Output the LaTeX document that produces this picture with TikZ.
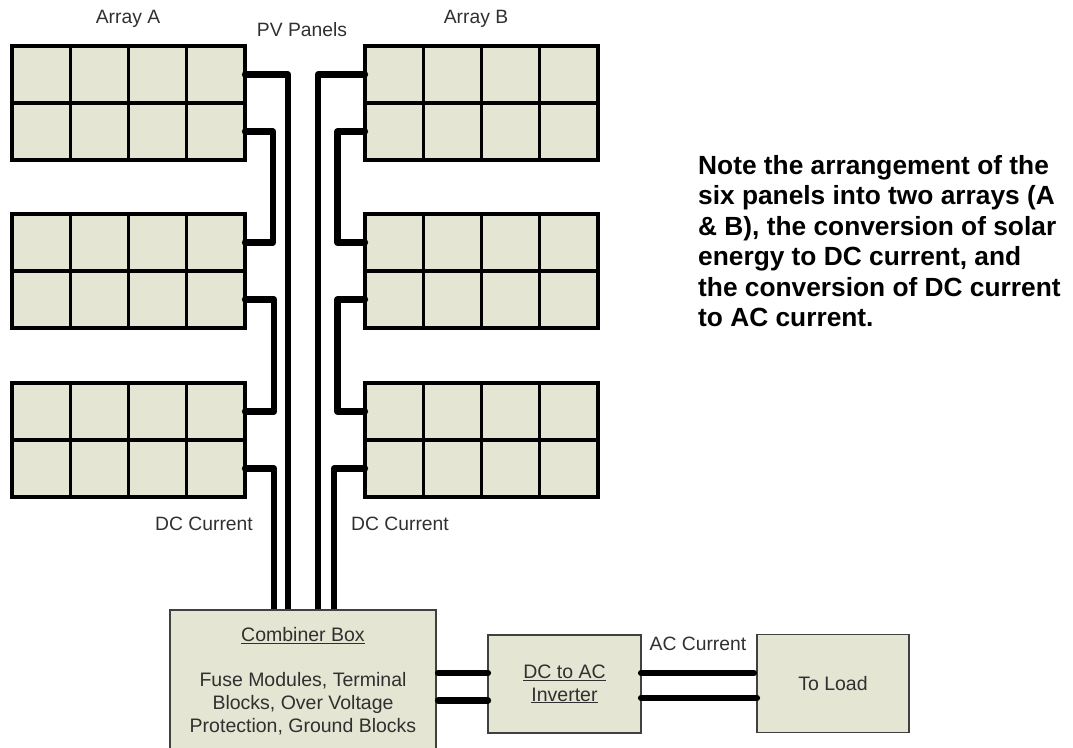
\documentclass[tikz,border=0pt]{standalone}
\usepackage{fontspec}
\setmainfont{Liberation Sans}
\definecolor{panelfill}{HTML}{E4E5D2}
\definecolor{labelgray}{HTML}{303030}
\tikzset{
  cell/.style={draw=black, fill=panelfill, line width=3.2pt, inner sep=0pt, outer sep=0pt,
    minimum width=58.25pt, minimum height=57pt},
  wire/.style={line width=6.2pt, line cap=round, line join=round},
  unit/.style={draw=black!75, fill=panelfill, line width=1.5pt, inner sep=0pt, outer sep=0pt,
    align=center, text=labelgray, font=\fontsize{19.5}{22.7}\selectfont},
  caption/.style={text=labelgray, font=\fontsize{19.3}{22}\selectfont, inner sep=0pt}
}
\begin{document}
\begin{tikzpicture}[x=1pt, y=-1pt]
  \clip (0,0) rectangle (1073,747);
  % Panels: two rows of four cells each
  \foreach \p/\x/\y in {A1/12/46, A2/12/214, A3/12/383, B1/365/46, B2/365/214, B3/365/383} {
    \foreach \r in {1,2} {
      \foreach \c in {1,2,3,4} {
        \node[cell] (\p-\r-\c) at ({\x+(\c-0.5)*58.25},{\y+(\r-0.5)*57}) {};
      }
    }
  }
  % Labels above the panels
  \node[caption] (arrayA) at (128,19) {Array A};
  \node[caption] (pvpanels) at (302,29.5) {PV Panels};
  \node[caption] (arrayB) at (476,19) {Array B};
  \node[caption] (dcleft) at (204,524) {DC Current};
  \node[caption] (dcright) at (400,524) {DC Current};
  % Feeds into the combiner
  \coordinate (inA1) at (288,610);
  \coordinate (inA3) at (274,610);
  \coordinate (inB1) at (318,610);
  \coordinate (inB3) at (334,610);
  \coordinate (busA) at (273,190);
  \coordinate (busB) at (337.5,190);
  \coordinate (busAlow) at (274,355);
  \coordinate (busBlow) at (337.5,355);
  \draw[wire] (A1-1-4.east) -| (inA1);
  \draw[wire] (A3-2-4.east) -| (inA3);
  \draw[wire] (B1-1-1.west) -| (inB1);
  \draw[wire] (B3-2-1.west) -| (inB3);
  % Links between panels
  \draw[wire] (A1-2-4.east) -| (busA) |- (A2-1-4.east);
  \draw[wire] (A2-2-4.east) -| (busAlow) |- (A3-1-4.east);
  \draw[wire] (B1-2-1.west) -| (busB) |- (B2-1-1.west);
  \draw[wire] (B2-2-1.west) -| (busBlow) |- (B3-1-1.west);
  % Boxes at the bottom
  \node[unit, minimum width=266pt, minimum height=142pt] (combiner) at (303,681)
    {\underline{Combiner Box}\\[22.7pt]Fuse Modules, Terminal\\Blocks, Over Voltage\\Protection, Ground Blocks};
  \node[unit, minimum width=153pt, minimum height=98pt] (inverter) at (564.5,684)
    {\underline{DC to AC}\\\underline{Inverter}};
  \node[unit, minimum width=152pt, minimum height=98pt] (load) at (833,683.5) {To Load};
  \node[caption] (accurrent) at (698,644) {AC Current};
  % Output side
  \coordinate (cout1) at (438,673);
  \coordinate (cout2) at (438,700.5);
  \coordinate (lin1) at (754,673);
  \coordinate (lin2) at (757,698);
  \draw[wire] (cout1) -- (cout1 -| inverter.west);
  \draw[wire] (cout2) -- (cout2 -| inverter.west);
  \draw[wire] (lin1 -| inverter.east) -- (lin1);
  \draw[wire] (lin2 -| inverter.east) -- (lin2);
  % Note at the right
  \node[anchor=north west, align=left, inner sep=0pt, font=\bfseries\fontsize{26.3}{30.5}\selectfont] (note) at (698,155)
    {Note the arrangement of the\\six panels into two arrays (A\\\& B), the conversion of solar\\energy to DC current, and\\the conversion of DC current\\to AC current.};
\end{tikzpicture}
\end{document}
